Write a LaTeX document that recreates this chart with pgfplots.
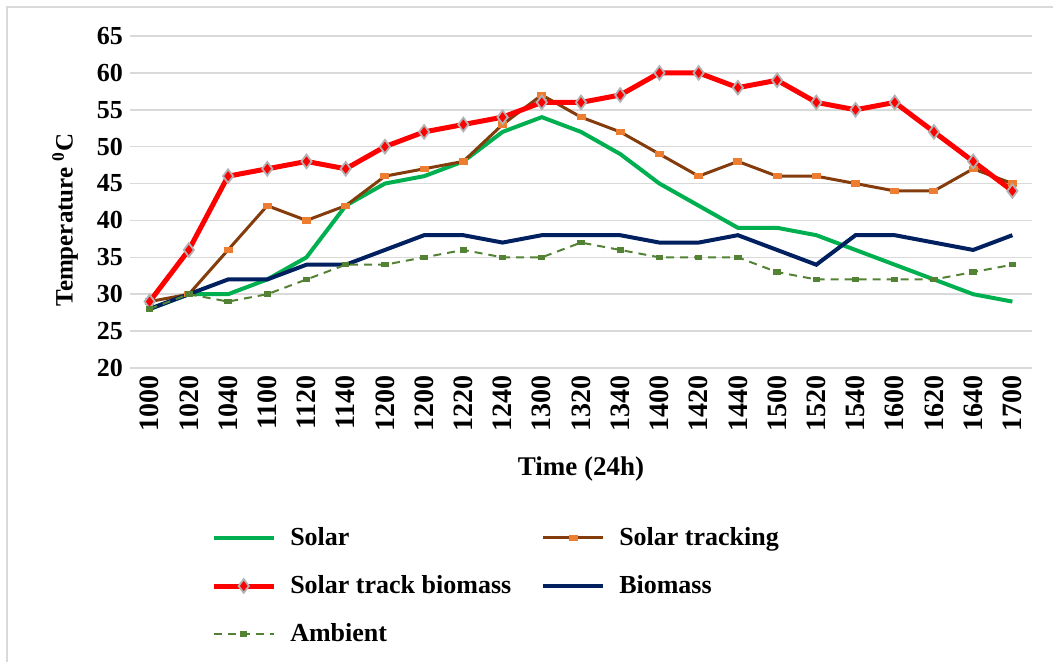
\documentclass[border=0pt]{standalone}
\usepackage{fontspec}
\setmainfont{Liberation Serif}
\usepackage{pgfplots}
\pgfplotsset{compat=1.18}
\definecolor{cSolar}{HTML}{00B050}
\definecolor{cTrack}{HTML}{843C0C}
\definecolor{cTrackM}{HTML}{ED7D31}
\definecolor{cRed}{HTML}{FF0000}
\definecolor{cBio}{HTML}{002060}
\definecolor{cAmb}{HTML}{548235}
\begin{document}
\begin{tikzpicture}
\path[use as bounding box] (0pt,0pt) rectangle (526.5pt,331pt);
\draw[gray!30, line width=1pt] (3.5pt,0pt) -- (3.5pt,327.5pt) -- (526.5pt,327.5pt);
\begin{axis}[
  at={(65pt,147pt)}, anchor=south west,
  scale only axis, width=451pt, height=166pt,
  xmin=-0.5, xmax=22.5, ymin=20, ymax=65,
  ytick={20,25,...,65},
  xtick={0,...,22},
  xticklabels={1000,1020,1040,1100,1120,1140,1200,1200,1220,1240,1300,1320,1340,1400,1420,1440,1500,1520,1540,1600,1620,1640,1700},
  /pgf/number format/assume math mode=true,
  x tick label style={rotate=90, anchor=east, font=\bfseries\fontsize{14}{16}\selectfont},
  y tick label style={font=\bfseries\fontsize{13}{15}\selectfont},
  axis line style={draw=none},
  major tick length=0pt,
  ymajorgrids, grid style={gray!30, line width=0.8pt},
  xlabel={Time (24h)},
  xlabel style={font=\bfseries\fontsize{13.5}{15}\selectfont, yshift=-6pt},
  ylabel={Temperature \textsuperscript{0}C},
  ylabel style={font=\bfseries\fontsize{12.5}{15}\selectfont, at={(axis description cs:-0.072,0.446)}, anchor=center},
  legend columns=2,
  legend style={at={(axis description cs:0.083,-0.455)}, anchor=north west, draw=none,
    font=\bfseries\fontsize{13}{15}\selectfont, row sep=9.5pt,
    /tikz/every odd column/.append style={column sep=5pt},
    /tikz/every even column/.append style={column sep=13pt}},
  legend cell align=left,
  legend image code/.code={\draw[mark repeat=2,mark phase=2] plot coordinates {(0pt,0pt) (15pt,0pt) (30pt,0pt)};},
]
\addplot[cSolar, line width=2pt, no marks] coordinates {
(0,28)(1,30)(2,30)(3,32)(4,35)(5,42)(6,45)(7,46)(8,48)(9,52)(10,54)(11,52)(12,49)(13,45)(14,42)(15,39)(16,39)(17,38)(18,36)(19,34)(20,32)(21,30)(22,29)};
\addlegendentry{Solar}
\addplot[cTrack, line width=1.5pt, mark=square*, mark size=2pt, mark options={fill=cTrackM, draw=cTrackM, line width=0pt, yscale=0.65}] coordinates {
(0,29)(1,30)(2,36)(3,42)(4,40)(5,42)(6,46)(7,47)(8,48)(9,53)(10,57)(11,54)(12,52)(13,49)(14,46)(15,48)(16,46)(17,46)(18,45)(19,44)(20,44)(21,47)(22,45)};
\addlegendentry{Solar tracking}
\addplot[cRed, line width=2.5pt, mark=diamond*, mark size=3.4pt, mark options={fill=cRed, draw=gray!60, line width=0.9pt}] coordinates {
(0,29)(1,36)(2,46)(3,47)(4,48)(5,47)(6,50)(7,52)(8,53)(9,54)(10,56)(11,56)(12,57)(13,60)(14,60)(15,58)(16,59)(17,56)(18,55)(19,56)(20,52)(21,48)(22,44)};
\addlegendentry{Solar track biomass}
\addplot[cBio, line width=2pt, no marks] coordinates {
(0,28)(1,30)(2,32)(3,32)(4,34)(5,34)(6,36)(7,38)(8,38)(9,37)(10,38)(11,38)(12,38)(13,37)(14,37)(15,38)(16,36)(17,34)(18,38)(19,38)(20,37)(21,36)(22,38)};
\addlegendentry{Biomass}
\addplot[cAmb, line width=1pt, dash pattern=on 4pt off 3pt, mark=square*, mark size=1.6pt, mark options={solid, fill=cAmb, draw=cAmb, line width=0pt, yscale=0.7}] coordinates {
(0,28)(1,30)(2,29)(3,30)(4,32)(5,34)(6,34)(7,35)(8,36)(9,35)(10,35)(11,37)(12,36)(13,35)(14,35)(15,35)(16,33)(17,32)(18,32)(19,32)(20,32)(21,33)(22,34)};
\addlegendentry{Ambient}
\end{axis}
\end{tikzpicture}
\end{document}
